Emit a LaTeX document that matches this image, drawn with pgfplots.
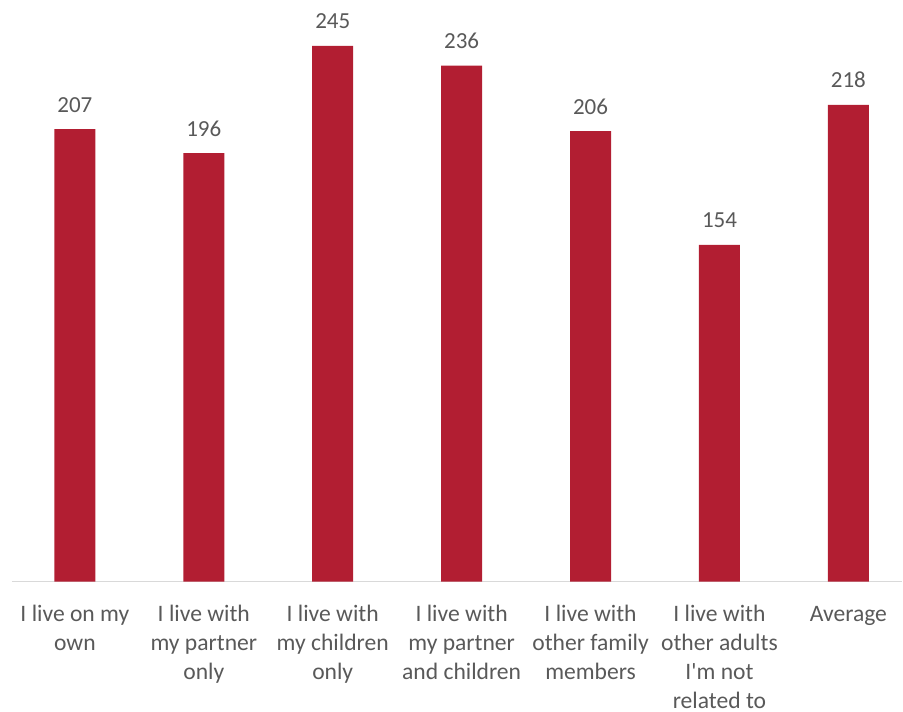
\documentclass[border=0pt]{standalone}
\usepackage{fontspec}
\setmainfont{Carlito}[Ligatures=TeXOff]
\usepackage{pgfplots}
\pgfplotsset{compat=1.18}
\definecolor{barred}{RGB}{178,30,50}
\definecolor{txtgray}{RGB}{89,89,89}
\definecolor{axgray}{RGB}{217,217,217}
\begin{document}
\begin{tikzpicture}
\begin{axis}[
  scale only axis,
  width=891bp, height=582bp,
  xmin=-0.488, xmax=6.419,
  ymin=0, ymax=266,
  axis x line=bottom,
  axis y line=none,
  axis line style={draw=axgray, line width=1.2bp, -},
  xtick={0,1,2,3,4,5,6},
  xticklabels={
    {\strut I live on my\\own},
    {\strut I live with\\my partner\\only},
    {\strut I live with\\my children\\only},
    {\strut I live with\\my partner\\and children},
    {\strut I live with\\other family\\members},
    {\strut I live with\\other adults\\I'm not\\related to},
    {\strut Average}},
  major tick length=0pt,
  xticklabel style={align=center, anchor=north,
    inner sep=0pt, yshift=-19.5bp, text=txtgray,
    font=\fontsize{23.6bp}{29bp}\selectfont},
  ybar, bar width=41bp,
  nodes near coords,
  /pgf/number format/assume math mode=true,
  every node near coord/.append style={anchor=base, yshift=17bp,
    inner sep=0pt, text=txtgray, font=\fontsize{23bp}{27bp}\selectfont},
  clip=false,
]
\addplot[draw=none, fill=barred] coordinates {
  (0,207) (1,196) (2,245) (3,236) (4,206) (5,154) (6,218)};
\coordinate (tl) at (rel axis cs:0,1);
\end{axis}
\path (tl) ++(-12bp,0) rectangle ++(903bp,-712bp);
\end{tikzpicture}
\end{document}
